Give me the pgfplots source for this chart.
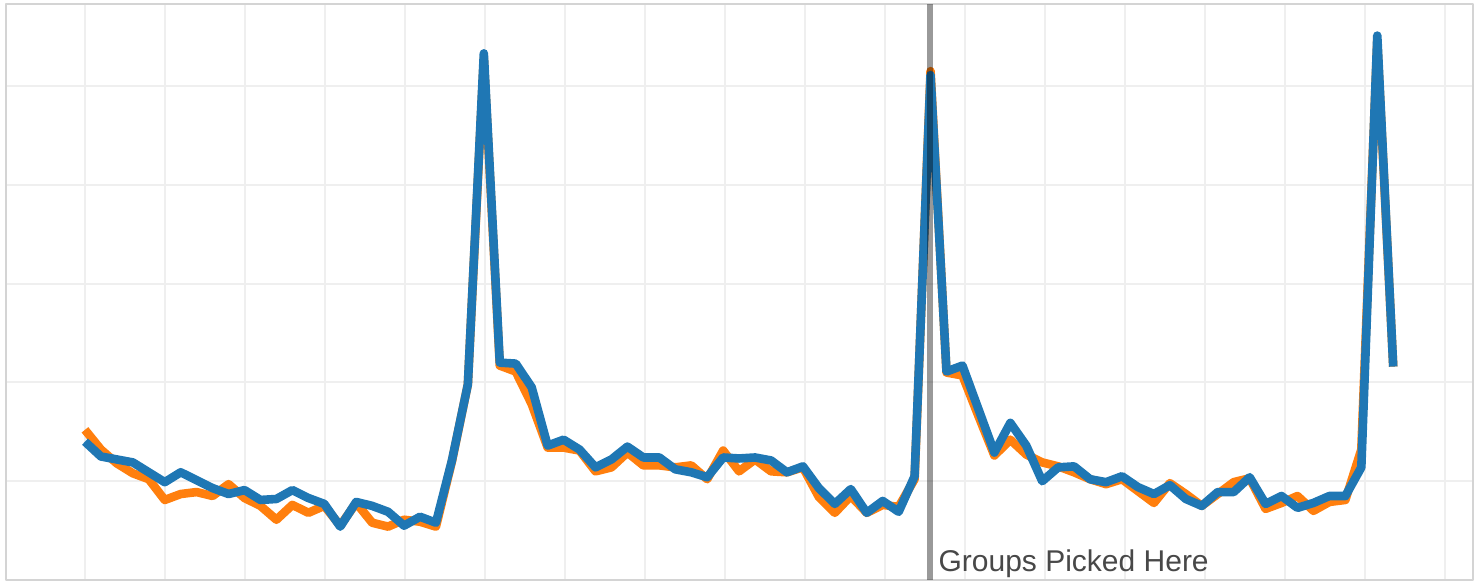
\documentclass[border=0pt]{standalone}
\usepackage{pgfplots}
\pgfplotsset{compat=1.18}
\usepackage{fontspec}
\setmainfont{Liberation Sans}

\definecolor{tabblue}{HTML}{1F77B4}
\definecolor{taborange}{HTML}{FF7F0E}
\definecolor{gridgray}{HTML}{EFEFEF}
\definecolor{framegray}{HTML}{D4D4D4}
\definecolor{labelgray}{HTML}{484848}

% x = week index, y = normalised value (gridline units)
\pgfplotstableread{
x orange blue
0 1.52 1.40
1 1.32 1.25
2 1.18 1.22
3 1.08 1.19
4 1.02 1.09
5 0.81 0.99
6 0.87 1.09
7 0.89 1.01
8 0.85 0.93
9 0.97 0.87
10 0.83 0.91
11 0.75 0.81
12 0.61 0.82
13 0.76 0.91
14 0.68 0.83
15 0.75 0.77
16 0.55 0.54
17 0.78 0.79
18 0.58 0.75
19 0.54 0.69
20 0.61 0.55
21 0.59 0.64
22 0.54 0.58
23 1.20 1.21
24 1.98 1.98
25 5.28 5.33
26 2.17 2.20
27 2.11 2.19
28 1.78 1.95
29 1.34 1.36
30 1.34 1.42
31 1.31 1.32
32 1.10 1.14
33 1.14 1.22
34 1.29 1.35
35 1.16 1.24
36 1.16 1.24
37 1.14 1.12
38 1.16 1.09
39 1.02 1.04
40 1.31 1.24
41 1.10 1.23
42 1.22 1.24
43 1.10 1.21
44 1.09 1.09
45 1.14 1.15
46 0.84 0.93
47 0.68 0.77
48 0.85 0.92
49 0.68 0.68
50 0.76 0.80
51 0.74 0.69
52 1.02 1.05
53 5.15 5.11
54 2.10 2.11
55 2.07 2.17
56 1.66 1.73
57 1.26 1.29
58 1.42 1.59
59 1.27 1.36
60 1.19 1.00
61 1.15 1.14
62 1.09 1.15
63 1.02 1.02
64 0.97 0.99
65 1.02 1.05
66 0.90 0.94
67 0.78 0.87
68 0.98 0.96
69 0.87 0.82
70 0.75 0.75
71 0.87 0.89
72 0.99 0.89
73 1.03 1.04
74 0.72 0.77
75 0.78 0.85
76 0.85 0.73
77 0.70 0.78
78 0.79 0.85
79 0.81 0.85
80 1.32 1.14
81 5.46 5.51
82 2.16 2.16
}\datatable

\begin{document}
\begin{tikzpicture}[line cap=round, line join=round]
% fix the page to the frame plus the small white margins
\useasboundingbox (-3pt,-4pt) rectangle (737pt,290pt);
\begin{axis}[
    at={(0,0)}, anchor=south west,
    width=733.5pt, height=288pt,
    scale only axis,
    xmin=-4.95, xmax=87.0,
    ymin=0, ymax=5.83,
    xtick={0,5.016,...,86},
    ytick={1,2,3,4,5},
    xticklabels={}, yticklabels={},
    major tick length=0pt,
    grid=major,
    major grid style={gridgray, line width=1pt},
    axis line style={framegray, line width=1pt},
    clip=true
]
\addplot[taborange, line width=4.3pt] table[x=x, y=orange] {\datatable};
\addplot[tabblue, line width=4.3pt] table[x=x, y=blue] {\datatable};
\addplot[black, opacity=0.4, line width=3pt, line cap=butt] coordinates {(52.98,0) (52.98,5.83)};
\node[anchor=base west, inner sep=0pt, text=labelgray, font=\fontsize{15}{18}\selectfont]
    at (axis cs:53.48,0.09) {Groups Picked Here};
\end{axis}
\end{tikzpicture}
\end{document}
